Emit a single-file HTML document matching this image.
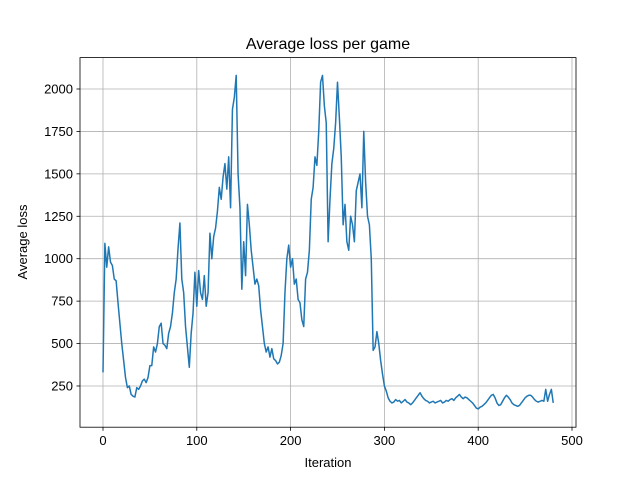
<!DOCTYPE html>
<html><head><meta charset="utf-8">
<style>
body{margin:0;background:#fff;}
svg{font-family:"Liberation Sans","DejaVu Sans",sans-serif;}
</style></head>
<body>
<svg id="chart" width="640" height="480" xmlns="http://www.w3.org/2000/svg">
<rect width="640" height="480" fill="#fff"/>
<g id="grid"></g>
<path id="line" fill="none" stroke="#1f77b4" stroke-width="1.5" stroke-linejoin="round"/>
<rect x="80" y="57.6" width="496" height="369.6" fill="none" stroke="#000" stroke-width="0.8"/>
<g id="ticks"></g>
<text x="328" y="49" font-size="16" text-anchor="middle">Average loss per game</text>
<text x="328" y="467" font-size="13" text-anchor="middle">Iteration</text>
<text x="27" y="242" font-size="13" text-anchor="middle" transform="rotate(-90 27 242)">Average loss</text>
</svg>
<script>
const xTicks=[0,100,200,300,400,500];
const yTicks=[250,500,750,1000,1250,1500,1750,2000];
const iterStep=2;
const lossValues=[330,1090,950,1070,980,960,880,870,740,620,500,400,300,240,250,200,190,185,240,230,250,280,290,270,300,370,370,480,450,500,600,620,500,490,470,560,600,680,800,880,1060,1210,880,800,600,480,360,560,680,920,720,930,800,760,900,720,800,1150,1000,1130,1180,1280,1420,1350,1480,1560,1410,1600,1300,1880,1950,2080,1500,1300,820,1100,900,1320,1200,1050,950,850,880,840,700,600,500,450,480,420,470,410,400,380,390,430,500,800,1000,1080,950,1000,850,880,760,740,640,600,880,920,1050,1350,1420,1600,1550,1750,2040,2080,1900,1800,1100,1350,1560,1650,1800,2040,1830,1600,1200,1320,1100,1050,1250,1200,1100,1400,1450,1500,1300,1750,1450,1250,1200,1000,460,480,570,500,400,320,
250,220,180,160,150,155,170,160,165,150,160,170,155,150,140,150,165,180,195,210,190,175,165,160,150,155,160,150,155,160,165,150,155,165,160,170,175,165,180,190,200,185,175,185,180,170,160,150,135,120,115,125,130,140,150,165,180,195,200,180,150,135,140,160,180,195,185,170,150,140,135,130,135,150,165,180,190,195,195,185,170,160,155,160,165,160,230,160,200,230,150];
const X=v=>103+v*0.938;
const Y=v=>428.4-v*0.1697;
const ns="http://www.w3.org/2000/svg";
const grid=document.getElementById('grid'),ticks=document.getElementById('ticks');
function mk(tag,attrs,parent){const e=document.createElementNS(ns,tag);for(const k in attrs)e.setAttribute(k,attrs[k]);parent.appendChild(e);return e;}
xTicks.forEach(t=>{
 const g=mk('line',{x1:X(t),x2:X(t),y1:57.6,y2:427.2,stroke:'#b0b0b0','stroke-width':0.8},grid);
 
 
 mk('line',{x1:X(t),x2:X(t),y1:427.2,y2:430.7,stroke:'#000','stroke-width':0.8},ticks);
 const tx=mk('text',{x:X(t),y:445,'font-size':13,'text-anchor':'middle'},ticks);tx.textContent=t;
 
 
});
yTicks.forEach(t=>{
 const g=mk('line',{x1:80,x2:576,y1:Y(t),y2:Y(t),stroke:'#b0b0b0','stroke-width':0.8},grid);
 
 
 mk('line',{x1:76.5,x2:80,y1:Y(t),y2:Y(t),stroke:'#000','stroke-width':0.8},ticks);
 const tx=mk('text',{x:73,y:Y(t)+4.5,'font-size':13,'text-anchor':'end'},ticks);tx.textContent=t;
 
 
});
document.getElementById('line').setAttribute('d',lossValues.map((v,i)=>(i?'L':'M')+X(i*iterStep).toFixed(2)+' '+Y(v).toFixed(2)).join(' '));
</script>
</body></html>
